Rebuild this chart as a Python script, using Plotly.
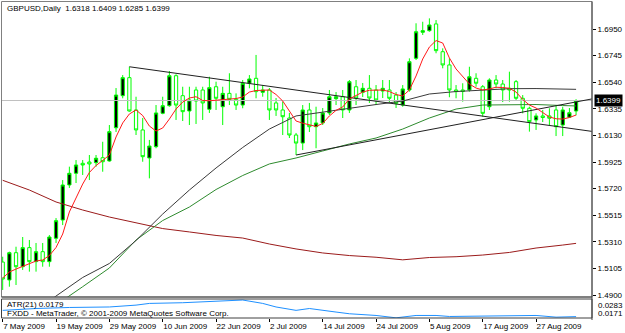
import plotly.graph_objects as go
import pandas as pd

# ---------------- data ----------------
DATES = pd.bdate_range("2009-05-07", "2009-09-04")  # 87 daily bars

OPEN = [1.5154, 1.5016, 1.5226, 1.5118, 1.5265, 1.5157, 1.5234, 1.5157, 1.5337, 1.5478,
        1.5748, 1.5838, 1.5915, 1.5925, 1.5920, 1.5958, 1.5933, 1.6189, 1.6436, 1.6575,
        1.6326, 1.6172, 1.5956, 1.6043, 1.6300, 1.6359, 1.6590, 1.6436, 1.6318, 1.6480,
        1.6480, 1.6331, 1.6505, 1.6351, 1.6454, 1.6408, 1.6364, 1.6532, 1.6570, 1.6462,
        1.6480, 1.6380, 1.6326, 1.6264, 1.6133, 1.6071, 1.6326, 1.6197, 1.6226, 1.6303,
        1.6413, 1.6428, 1.6326, 1.6505, 1.6462, 1.6493, 1.6480, 1.6472, 1.6480, 1.6441,
        1.6364, 1.6480, 1.6724, 1.6925, 1.6937, 1.6989, 1.6775, 1.6673, 1.6480, 1.6480,
        1.6480, 1.6570, 1.6505, 1.6351, 1.6557, 1.6526, 1.6493, 1.6544, 1.6416, 1.6339,
        1.6249, 1.6280, 1.6280, 1.6326, 1.6210, 1.6270, 1.6318]
HIGH = [1.5195, 1.5234, 1.5272, 1.5347, 1.5324, 1.5301, 1.5301, 1.5362, 1.5493, 1.5786,
        1.5889, 1.5940, 1.5940, 1.5979, 1.5979, 1.6081, 1.6210, 1.6495, 1.6595, 1.6659,
        1.6428, 1.6264, 1.6095, 1.6364, 1.6428, 1.6626, 1.6601, 1.6505, 1.6505, 1.6505,
        1.6505, 1.6582, 1.6544, 1.6505, 1.6609, 1.6454, 1.6557, 1.6595, 1.6750, 1.6518,
        1.6495, 1.6418, 1.6390, 1.6303, 1.6149, 1.6364, 1.6380, 1.6351, 1.6341, 1.6480,
        1.6464, 1.6480, 1.6557, 1.6557, 1.6534, 1.6595, 1.6518, 1.6557, 1.6557, 1.6464,
        1.6518, 1.6724, 1.6994, 1.7006, 1.7032, 1.7019, 1.6801, 1.6724, 1.6518, 1.6532,
        1.6659, 1.6609, 1.6518, 1.6570, 1.6595, 1.6557, 1.6621, 1.6557, 1.6441, 1.6351,
        1.6300, 1.6326, 1.6339, 1.6364, 1.6351, 1.6341, 1.6409]
LOW = [1.4939, 1.4964, 1.4977, 1.5093, 1.5080, 1.5080, 1.5118, 1.5118, 1.5301, 1.5439,
       1.5725, 1.5763, 1.5825, 1.5786, 1.5889, 1.5850, 1.5927, 1.6156, 1.6416, 1.6313,
       1.6133, 1.5927, 1.5799, 1.6031, 1.6293, 1.6351, 1.6249, 1.6241, 1.6210, 1.6218,
       1.6249, 1.6303, 1.6326, 1.6210, 1.6364, 1.6326, 1.6339, 1.6493, 1.6416, 1.6428,
       1.6249, 1.6280, 1.6133, 1.6110, 1.5979, 1.6017, 1.6156, 1.6031, 1.6210, 1.6287,
       1.6364, 1.6264, 1.6303, 1.6364, 1.6426, 1.6380, 1.6364, 1.6418, 1.6387, 1.6341,
       1.6351, 1.6467, 1.6711, 1.6904, 1.6929, 1.6763, 1.6647, 1.6424, 1.6416, 1.6390,
       1.6467, 1.6505, 1.6274, 1.6326, 1.6493, 1.6387, 1.6390, 1.6403, 1.6300, 1.6159,
       1.6172, 1.6233, 1.6210, 1.6125, 1.6125, 1.6264, 1.6285]
CLOSE = [1.5023, 1.5226, 1.5118, 1.5265, 1.5157, 1.5234, 1.5157, 1.5347, 1.5473, 1.5748,
         1.5838, 1.5902, 1.5902, 1.5910, 1.5954, 1.5927, 1.6159, 1.6441, 1.6575, 1.6318,
         1.6172, 1.5966, 1.6048, 1.6303, 1.6359, 1.6590, 1.6364, 1.6313, 1.6403, 1.6395,
         1.6380, 1.6498, 1.6416, 1.6454, 1.6408, 1.6364, 1.6532, 1.6565, 1.6467, 1.6480,
         1.6326, 1.6326, 1.6274, 1.6133, 1.6071, 1.6326, 1.6197, 1.6226, 1.6303, 1.6428,
         1.6428, 1.6326, 1.6544, 1.6418, 1.6493, 1.6418, 1.6403, 1.6493, 1.6416, 1.6377,
         1.6488, 1.6698, 1.6929, 1.6937, 1.6981, 1.6783, 1.6673, 1.6480, 1.6467, 1.6468,
         1.6582, 1.6532, 1.6300, 1.6557, 1.6526, 1.6480, 1.6480, 1.6416, 1.6339, 1.6236,
         1.6280, 1.6268, 1.6262, 1.6197, 1.6326, 1.6305, 1.6399]

# fast moving average (red), one value per bar
MA_RED = [1.5031, 1.5077, 1.5100, 1.5120, 1.5143, 1.5162, 1.5170, 1.5204, 1.5266, 1.5370,
          1.5540, 1.5648, 1.5755, 1.5844, 1.5898, 1.5937, 1.5979, 1.6118, 1.6226, 1.6295,
          1.6326, 1.6283, 1.6202, 1.6164, 1.6187, 1.6256, 1.6333, 1.6387, 1.6418, 1.6428,
          1.6399, 1.6397, 1.6400, 1.6403, 1.6407, 1.6414, 1.6426, 1.6464, 1.6476, 1.6480,
          1.6480, 1.6445, 1.6395, 1.6318, 1.6241, 1.6224, 1.6210, 1.6199, 1.6222, 1.6280,
          1.6323, 1.6349, 1.6411, 1.6439, 1.6464, 1.6478, 1.6480, 1.6480, 1.6468, 1.6445,
          1.6434, 1.6480, 1.6588, 1.6719, 1.6811, 1.6861, 1.6842, 1.6727, 1.6642, 1.6580,
          1.6526, 1.6495, 1.6480, 1.6488, 1.6501, 1.6499, 1.6493, 1.6464, 1.6407, 1.6364,
          1.6341, 1.6306, 1.6272, 1.6258, 1.6256, 1.6268, 1.6287]

# slower moving averages, read at sampled bars
MA_BLACK_BAR = [7, 8, 12, 16, 20, 24, 28, 32, 36, 40, 44, 48, 52, 56, 60, 64, 68, 72, 76, 80, 84, 86]
MA_BLACK = [1.4854, 1.4892, 1.5035, 1.5143, 1.5320, 1.5524, 1.5709, 1.5879, 1.6037, 1.6179, 1.6280,
            1.6310, 1.6341, 1.6368, 1.6395, 1.6449, 1.6468, 1.6480, 1.6490, 1.6491, 1.6487, 1.6485]
MA_GREEN_BAR = [9, 10, 12, 16, 20, 24, 28, 32, 36, 40, 44, 48, 52, 56, 60, 64, 68, 72, 76, 80, 84, 86]
MA_GREEN = [1.4858, 1.4892, 1.4964, 1.5108, 1.5324, 1.5474, 1.5578, 1.5713, 1.5821, 1.5910, 1.5956,
            1.6010, 1.6064, 1.6110, 1.6179, 1.6264, 1.6333, 1.6364, 1.6368, 1.6368, 1.6360, 1.6357]
MA_MAROON_BAR = [0, 4, 8, 12, 16, 20, 24, 28, 32, 36, 40, 44, 48, 52, 56, 60, 64, 68, 72, 76, 80, 84, 86]
MA_MAROON = [1.5784, 1.5709, 1.5617, 1.5555, 1.5501, 1.5459, 1.5412, 1.5386, 1.5359, 1.5339, 1.5293,
             1.5255, 1.5224, 1.5204, 1.5191, 1.5171, 1.5189, 1.5195, 1.5208, 1.5228, 1.5262, 1.5285, 1.5298]

# ATR(21) sub window
ATR_BAR = [0, 5, 10, 16, 20, 22, 27, 30, 33, 36, 39, 41, 44, 46, 50, 52, 56, 59, 62, 65, 67, 70, 75, 80, 83, 86]
ATR = [0.0216, 0.0227, 0.0233, 0.0236, 0.0247, 0.0257, 0.0261, 0.0267, 0.0271, 0.0277, 0.0257, 0.0236,
       0.0216, 0.0227, 0.0206, 0.0196, 0.0186, 0.0172, 0.0186, 0.0186, 0.0180, 0.0182, 0.0186, 0.0186,
       0.0176, 0.0179]

# trend lines (two anchors each, drawn as rays to the right)
TREND_DOWN = [(19, 1.6659), (86, 1.6178)]
TREND_UP = [(44, 1.5979), (86, 1.6388)]

PRICE_TICKS = [1.4900, 1.5105, 1.5310, 1.5515, 1.5720, 1.5925, 1.6130, 1.6335, 1.6540, 1.6745, 1.6950]
DATE_TICK_BARS = [0, 8, 16, 24, 32, 40, 48, 56, 64, 72, 80]
BID = 1.6399
ATR_LAST = 0.0179
ATR_MAX, ATR_MIN = 0.0283, 0.0171

# ---------------- figure ----------------
W, H = 625, 333
FONT = "Liberation Sans"
bars = list(range(len(OPEN)))
X_RANGE = [-0.105, 88.39]
Y_RANGE = [1.48846, 1.71581]


def fx(px):
    return px / W


def fy(py):
    return 1 - py / H


fig = go.Figure()

fig.add_trace(go.Scatter(x=[X_RANGE[0], X_RANGE[1]], y=[BID, BID], mode="lines",
                         line=dict(color="#C0C0C0", width=1), hoverinfo="skip"))

fig.add_trace(go.Scatter(x=MA_MAROON_BAR, y=MA_MAROON, mode="lines",
                         line=dict(color="#9B1B1B", width=1)))
fig.add_trace(go.Scatter(x=MA_GREEN_BAR, y=MA_GREEN, mode="lines",
                         line=dict(color="#2E8B2E", width=1)))
fig.add_trace(go.Scatter(x=MA_BLACK_BAR, y=MA_BLACK, mode="lines",
                         line=dict(color="#3A3A3A", width=1)))

for (b0, p0), (b1, p1) in (TREND_DOWN, TREND_UP):
    slope = (p1 - p0) / (b1 - b0)
    fig.add_trace(go.Scatter(x=[b0, X_RANGE[1]], y=[p0, p0 + slope * (X_RANGE[1] - b0)],
                             mode="lines", line=dict(color="#202020", width=1)))

fig.add_trace(go.Candlestick(
    x=bars, open=OPEN, high=HIGH, low=LOW, close=CLOSE,
    increasing=dict(line=dict(color="#00FF00", width=1), fillcolor="#000000"),
    decreasing=dict(line=dict(color="#00FF00", width=1), fillcolor="#FFFFFF"),
    whiskerwidth=0))

fig.add_trace(go.Scatter(x=bars, y=MA_RED, mode="lines",
                         line=dict(color="#FF1A1A", width=1)))

fig.add_trace(go.Scatter(x=ATR_BAR, y=ATR, mode="lines", xaxis="x2", yaxis="y2",
                         line=dict(color="#1E90FF", width=1)))

tick_text = [DATES[i].strftime("%-d %b %Y") for i in DATE_TICK_BARS]

fig.update_layout(
    template="none",
    width=W, height=H, margin=dict(l=0, r=0, t=0, b=0, pad=0),
    paper_bgcolor="white", plot_bgcolor="white", showlegend=False,
    boxgap=0.3,
    font=dict(family=FONT, size=8, color="black"),
    xaxis=dict(domain=[fx(2), fx(592)], range=X_RANGE, showgrid=False, zeroline=False,
               showticklabels=False, ticks="", rangeslider=dict(visible=False), anchor="y",
               automargin=False, showline=False),
    yaxis=dict(domain=[fy(297), fy(2)], range=Y_RANGE, side="right", showgrid=False,
               zeroline=False, tickvals=PRICE_TICKS, ticktext=[f"{v:.4f}" for v in PRICE_TICKS],
               ticks="outside", ticklen=3, tickcolor="black", anchor="x", automargin=False,
               showline=False, tickfont=dict(family=FONT, size=8, color="black")),
    xaxis2=dict(domain=[fx(2), fx(592)], range=X_RANGE, showgrid=False, zeroline=False,
                tickvals=DATE_TICK_BARS, ticktext=tick_text, ticks="outside", ticklen=3,
                tickcolor="black", ticklabelposition="outside right", anchor="y2",
                tickangle=0, automargin=False, showline=False,
                tickfont=dict(family=FONT, size=8, color="black")),
    yaxis2=dict(domain=[fy(318), fy(299)], range=[ATR_MIN, ATR_MAX], showgrid=False,
                zeroline=False, showticklabels=False, ticks="", anchor="x2", side="right",
                automargin=False, showline=False),
)

shapes = [
    # outer frame of main pane
    dict(type="rect", xref="paper", yref="paper", x0=fx(1.5), x1=fx(592), y0=fy(297), y1=fy(1.5),
         line=dict(color="#808080", width=1)),
    dict(type="line", xref="paper", yref="paper", x0=fx(592), x1=fx(592), y0=fy(320), y1=fy(1.5),
         line=dict(color="#404040", width=1)),
    dict(type="line", xref="paper", yref="paper", x0=fx(1.5), x1=fx(592), y0=fy(297), y1=fy(297),
         line=dict(color="#404040", width=1)),
    # sub window frame
    dict(type="rect", xref="paper", yref="paper", x0=fx(1.5), x1=fx(592), y0=fy(318), y1=fy(299),
         line=dict(color="#404040", width=1)),
]
fig.update_layout(shapes=shapes)

annotations = [
    dict(xref="paper", yref="paper", x=fx(5), y=fy(9), xanchor="left", yanchor="middle",
         text=f"GBPUSD,Daily  {OPEN[-1]:.4f} {HIGH[-1]:.4f} {LOW[-1]:.4f} {CLOSE[-1]:.4f}",
         showarrow=False, font=dict(family=FONT, size=8, color="black")),
    dict(xref="paper", yref="y", x=fx(594), y=BID, xanchor="left", yanchor="middle",
         text=f"{BID:.4f}", showarrow=False, bgcolor="black", borderpad=1,
         font=dict(family=FONT, size=8, color="white")),
    dict(xref="paper", yref="paper", x=fx(5), y=fy(304), xanchor="left", yanchor="middle",
         text=f"ATR(21) {ATR_LAST:.4f}", showarrow=False, font=dict(family=FONT, size=8, color="black")),
    dict(xref="paper", yref="paper", x=fx(5), y=fy(313), xanchor="left", yanchor="middle",
         text="FXDD - MetaTrader, © 2001-2009 MetaQuotes Software Corp.", showarrow=False,
         font=dict(family=FONT, size=8, color="black")),
    dict(xref="paper", yref="paper", x=fx(596), y=fy(305), xanchor="left", yanchor="middle",
         text=f"{ATR_MAX:.4f}", showarrow=False, font=dict(family=FONT, size=8, color="black")),
    dict(xref="paper", yref="paper", x=fx(596), y=fy(313), xanchor="left", yanchor="middle",
         text=f"{ATR_MIN:.4f}", showarrow=False, font=dict(family=FONT, size=8, color="black")),
]
fig.update_layout(annotations=annotations)

fig.write_html("out.html")
